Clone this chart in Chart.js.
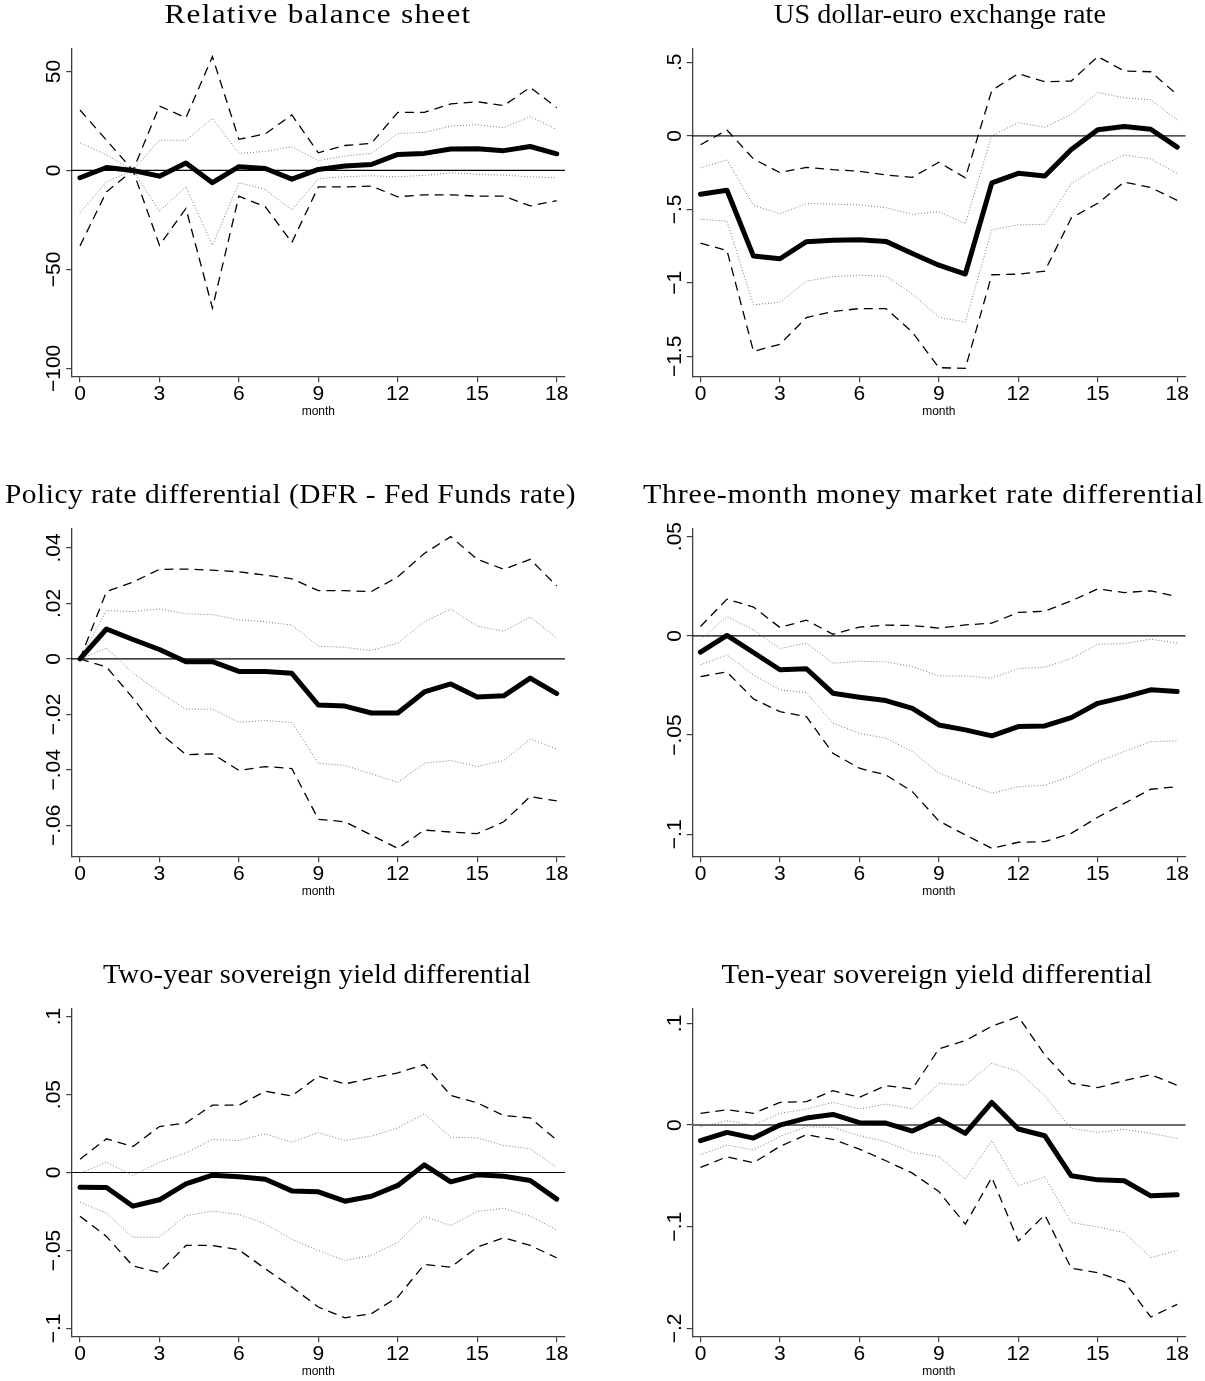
<!DOCTYPE html>
<html>
<head>
<meta charset="utf-8">
<script src="https://cdn.jsdelivr.net/npm/chart.js@4.4.1/dist/chart.umd.min.js"></script>
<style>
  html, body { margin: 0; padding: 0; background: #fff; }
  body { width: 1205px; height: 1381px; position: relative; overflow: hidden; }
  canvas { position: absolute; }
</style>
</head>
<body>
<canvas id="p1"></canvas>
<canvas id="p2"></canvas>
<canvas id="p3"></canvas>
<canvas id="p4"></canvas>
<canvas id="p5"></canvas>
<canvas id="p6"></canvas>
<script>
// Horizon (months after the shock) and x-axis ticks
const months = [0, 1, 2, 3, 4, 5, 6, 7, 8, 9, 10, 11, 12, 13, 14, 15, 16, 17, 18];
const xTicks = [0, 3, 6, 9, 12, 15, 18];
const xTickLabels = ['0', '3', '6', '9', '12', '15', '18'];

// Relative balance sheet: point estimate, 90% band (dashed), 68% band (dotted)
const bsMean = [-3.7, 1.5, 0, -2.9, 3.7, -6.2, 1.9, 1.0, -4.4, 0.5, 2.2, 3.0, 8.1, 8.6, 10.8, 11.0, 10.0, 12.1, 8.4];
const bsHi90 = [30.5, 15.3, 0, 32.5, 26.6, 57.5, 15.7, 18.5, 28.0, 8.9, 12.6, 13.7, 29.3, 29.3, 33.6, 34.7, 32.7, 42.0, 31.7];
const bsLo90 = [-38.1, -10.8, 0, -37.8, -19.2, -69.5, -13.0, -18.4, -36.4, -8.3, -8.3, -7.9, -13.3, -12.3, -12.3, -13.0, -13.0, -17.9, -15.3];
const bsHi68 = [14.0, 7.8, 0, 15.3, 15.2, 26.3, 8.6, 9.6, 12.0, 4.9, 7.3, 8.6, 18.7, 19.2, 22.4, 23.1, 21.6, 27.2, 20.7];
const bsLo68 = [-21.4, -5.7, 0, -20.6, -8.3, -37.8, -6.2, -9.6, -20.0, -4.2, -3.2, -2.7, -3.2, -2.5, -1.2, -1.9, -2.4, -3.2, -3.7];
const bsTicks = [-100, -50, 0, 50];
const bsTickLabels = ['\u2212100', '\u221250', '0', '50'];

// US dollar-euro exchange rate
const fxMean = [-0.398, -0.37, -0.818, -0.836, -0.72, -0.711, -0.707, -0.718, -0.80, -0.88, -0.94, -0.32, -0.255, -0.273, -0.093, 0.041, 0.064, 0.045, -0.077];
const fxHi90 = [-0.061, 0.039, -0.157, -0.25, -0.214, -0.23, -0.241, -0.266, -0.282, -0.18, -0.286, 0.309, 0.423, 0.368, 0.373, 0.539, 0.441, 0.436, 0.28];
const fxLo90 = [-0.73, -0.78, -1.466, -1.418, -1.236, -1.195, -1.175, -1.175, -1.336, -1.577, -1.582, -0.945, -0.941, -0.92, -0.559, -0.459, -0.314, -0.352, -0.439];
const fxHi68 = [-0.218, -0.164, -0.473, -0.53, -0.461, -0.464, -0.47, -0.489, -0.534, -0.516, -0.598, 0.002, 0.089, 0.059, 0.145, 0.295, 0.259, 0.245, 0.109];
const fxLo68 = [-0.568, -0.58, -1.15, -1.132, -0.989, -0.957, -0.948, -0.955, -1.075, -1.234, -1.268, -0.639, -0.605, -0.602, -0.325, -0.214, -0.13, -0.157, -0.257];
const fxTicks = [-1.5, -1, -0.5, 0, 0.5];
const fxTickLabels = ['\u22121.5', '\u22121', '\u2212.5', '0', '.5'];

// Policy rate differential (DFR - Fed Funds rate)
const prMean = [0, 0.0108, 0.007, 0.0034, -0.001, -0.001, -0.0045, -0.0045, -0.0052, -0.0166, -0.017, -0.0195, -0.0195, -0.0119, -0.009, -0.0137, -0.0133, -0.0069, -0.0125];
const prHi90 = [0, 0.0243, 0.0277, 0.0323, 0.0324, 0.032, 0.0314, 0.0302, 0.0289, 0.0246, 0.0246, 0.0243, 0.0296, 0.038, 0.0441, 0.0359, 0.0323, 0.0359, 0.0263];
const prLo90 = [0, -0.0029, -0.0141, -0.0265, -0.0345, -0.0342, -0.0402, -0.0388, -0.0395, -0.0578, -0.0587, -0.0635, -0.0683, -0.0617, -0.0624, -0.063, -0.0587, -0.0496, -0.0512];
const prHi68 = [0, 0.0175, 0.0171, 0.018, 0.0163, 0.016, 0.0141, 0.0134, 0.0122, 0.0046, 0.0042, 0.003, 0.0057, 0.0134, 0.018, 0.0118, 0.01, 0.0151, 0.0076];
const prLo68 = [0, 0.0039, -0.0051, -0.012, -0.0181, -0.0181, -0.0228, -0.0222, -0.0229, -0.0376, -0.0384, -0.0414, -0.0445, -0.0376, -0.0366, -0.0388, -0.0366, -0.0289, -0.0324];
const prTicks = [-0.06, -0.04, -0.02, 0, 0.02, 0.04];
const prTickLabels = ['\u2212.06', '\u2212.04', '\u2212.02', '0', '.02', '.04'];

// Three-month money market rate differential
const mmMean = [-0.0082, 0.0002, -0.0084, -0.0171, -0.0166, -0.0289, -0.0309, -0.0326, -0.0366, -0.0449, -0.0474, -0.0504, -0.0457, -0.0454, -0.0412, -0.034, -0.0309, -0.0272, -0.0281];
const mmHi90 = [0.0047, 0.0185, 0.0145, 0.0042, 0.0079, 0.0008, 0.0044, 0.0054, 0.0052, 0.0039, 0.0055, 0.0064, 0.0118, 0.0124, 0.0176, 0.0237, 0.0218, 0.0227, 0.0197];
const mmLo90 = [-0.0205, -0.0182, -0.0318, -0.0382, -0.0407, -0.0592, -0.0667, -0.0701, -0.0785, -0.0933, -0.1003, -0.1071, -0.104, -0.1037, -0.0995, -0.0914, -0.0844, -0.0773, -0.076];
const mmHi68 = [-0.002, 0.0097, 0.003, -0.0064, -0.0037, -0.0138, -0.0128, -0.0131, -0.0155, -0.0202, -0.0202, -0.0213, -0.0165, -0.0158, -0.0114, -0.0042, -0.0039, -0.0017, -0.0037];
const mmLo68 = [-0.0146, -0.0096, -0.0197, -0.0272, -0.0286, -0.044, -0.0491, -0.0516, -0.0583, -0.0692, -0.0743, -0.0793, -0.076, -0.0753, -0.0706, -0.0634, -0.0583, -0.0533, -0.0529];
const mmTicks = [-0.1, -0.05, 0, 0.05];
const mmTickLabels = ['\u2212.1', '\u2212.05', '0', '.05'];

// Two-year sovereign yield differential
const y2Mean = [-0.0094, -0.0096, -0.0216, -0.0175, -0.0073, -0.0017, -0.0028, -0.0043, -0.0118, -0.0124, -0.0184, -0.0152, -0.0083, 0.0049, -0.006, -0.0015, -0.0024, -0.0051, -0.0171];
const y2Hi90 = [0.0085, 0.0216, 0.0167, 0.0295, 0.0318, 0.0432, 0.0432, 0.0521, 0.0491, 0.0618, 0.0568, 0.0605, 0.0639, 0.0692, 0.0494, 0.0447, 0.0365, 0.035, 0.0209];
const y2Lo90 = [-0.028, -0.041, -0.06, -0.0641, -0.0468, -0.0468, -0.0496, -0.0618, -0.0735, -0.0863, -0.0932, -0.0906, -0.0799, -0.059, -0.0607, -0.0479, -0.0419, -0.0468, -0.0547];
const y2Hi68 = [-0.0004, 0.0066, -0.0019, 0.0066, 0.0126, 0.0212, 0.0205, 0.0248, 0.0194, 0.0256, 0.0205, 0.0233, 0.0286, 0.0376, 0.0226, 0.0222, 0.0173, 0.0152, 0.0034];
const y2Lo68 = [-0.019, -0.0261, -0.0415, -0.0415, -0.0276, -0.0248, -0.0269, -0.0329, -0.0429, -0.05, -0.0564, -0.0532, -0.0447, -0.0282, -0.034, -0.025, -0.0229, -0.028, -0.0368];
const y2Ticks = [-0.1, -0.05, 0, 0.05, 0.1];
const y2TickLabels = ['\u2212.1', '\u2212.05', '0', '.05', '.1'];

// Ten-year sovereign yield differential
const y10Mean = [-0.0154, -0.0072, -0.0128, 0, 0.0069, 0.0105, 0.0023, 0.002, -0.0059, 0.0059, -0.0082, 0.0223, -0.0039, -0.0105, -0.0499, -0.0539, -0.0548, -0.0696, -0.0686];
const y10Hi90 = [0.0115, 0.0151, 0.0115, 0.0223, 0.023, 0.0338, 0.0273, 0.0388, 0.0355, 0.0749, 0.0831, 0.0972, 0.1067, 0.069, 0.0411, 0.0368, 0.0437, 0.0496, 0.0391];
const y10Lo90 = [-0.0417, -0.0312, -0.0371, -0.021, -0.0095, -0.0141, -0.0236, -0.0351, -0.0473, -0.0654, -0.0975, -0.0516, -0.114, -0.0883, -0.1409, -0.1452, -0.154, -0.1888, -0.1764];
const y10Hi68 = [-0.0016, 0.0043, 0, 0.0115, 0.0158, 0.0223, 0.0158, 0.0207, 0.0158, 0.041, 0.0394, 0.0608, 0.0529, 0.0289, -0.0033, -0.0072, -0.0043, -0.0082, -0.0131];
const y10Lo68 = [-0.0292, -0.0197, -0.0246, -0.0112, -0.0016, -0.0023, -0.0105, -0.0164, -0.0269, -0.0309, -0.0532, -0.0154, -0.0598, -0.0509, -0.0959, -0.1002, -0.1057, -0.1304, -0.1232];
const y10Ticks = [-0.2, -0.1, 0, 0.1];
const y10TickLabels = ['\u2212.2', '\u2212.1', '0', '.1'];

// ---- page layout (px) ----
const CANVAS_X = [0, 605], CANVAS_W = [605, 600];
const CANVAS_Y = [0, 480, 960], CANVAS_H = [480, 480, 421];
const PLOT_L = [71.7, 692.2], PLOT_R = [565, 1185.5];
const PLOT_T = [48.3, 528.3, 1008.3], PLOT_B = [376.7, 856.7, 1336.7];
const EDGE = 8.3;          // gap between outermost data/tick and the frame
const Y_BOX = 60, X_BOX = 40;

const AXIS_COLOR = '#404040';
const TICK_FONT = '21px "Liberation Sans", Arial, sans-serif';
const TITLE_FONT = '28px "Liberation Serif", "Times New Roman", serif';

const panels = [
  { id: 'p1', col: 0, row: 0, title: 'Relative balance sheet', titleX: 318, titleW: 307,
    mean: bsMean, hi90: bsHi90, lo90: bsLo90, hi68: bsHi68, lo68: bsLo68,
    ticks: bsTicks, tickLabels: bsTickLabels, zeroColor: '#000', zeroWidth: 1.2 },
  { id: 'p2', col: 1, row: 0, title: 'US dollar-euro exchange rate', titleX: 940, titleW: 332,
    mean: fxMean, hi90: fxHi90, lo90: fxLo90, hi68: fxHi68, lo68: fxLo68,
    ticks: fxTicks, tickLabels: fxTickLabels, zeroColor: '#1a1a1a', zeroWidth: 1.2 },
  { id: 'p3', col: 0, row: 1, title: 'Policy rate differential (DFR - Fed Funds rate)', titleX: 290.5, titleW: 571,
    mean: prMean, hi90: prHi90, lo90: prLo90, hi68: prHi68, lo68: prLo68,
    ticks: prTicks, tickLabels: prTickLabels, zeroColor: '#000', zeroWidth: 1.2 },
  { id: 'p4', col: 1, row: 1, title: 'Three-month money market rate differential', titleX: 923.5, titleW: 561,
    mean: mmMean, hi90: mmHi90, lo90: mmLo90, hi68: mmHi68, lo68: mmLo68,
    ticks: mmTicks, tickLabels: mmTickLabels, zeroColor: '#000', zeroWidth: 1.2 },
  { id: 'p5', col: 0, row: 2, title: 'Two-year sovereign yield differential', titleX: 317, titleW: 428,
    mean: y2Mean, hi90: y2Hi90, lo90: y2Lo90, hi68: y2Hi68, lo68: y2Lo68,
    ticks: y2Ticks, tickLabels: y2TickLabels, zeroColor: '#000', zeroWidth: 1.2 },
  { id: 'p6', col: 1, row: 2, title: 'Ten-year sovereign yield differential', titleX: 937, titleW: 431,
    mean: y10Mean, hi90: y10Hi90, lo90: y10Lo90, hi68: y10Hi68, lo68: y10Lo68,
    ticks: y10Ticks, tickLabels: y10TickLabels, zeroColor: '#6a6a6a', zeroWidth: 2 }
];

function toPoints(values) {
  return months.map((m, i) => ({ x: m, y: values[i] }));
}

function makeDecor(p) {
  return {
    id: 'panelDecor',
    beforeDatasetsDraw(chart) {
      const { ctx, chartArea: a, scales } = chart;
      const py = scales.y.getPixelForValue(0);
      ctx.save();
      ctx.strokeStyle = p.zeroColor;
      ctx.lineWidth = p.zeroWidth;
      ctx.beginPath();
      ctx.moveTo(a.left, py);
      ctx.lineTo(a.right, py);
      ctx.stroke();
      ctx.restore();
    },
    afterDraw(chart) {
      const { ctx, chartArea: a, scales } = chart;
      ctx.save();
      ctx.fillStyle = '#000';
      // y tick labels, reading upwards
      ctx.font = TICK_FONT;
      ctx.textAlign = 'center';
      ctx.textBaseline = 'alphabetic';
      p.ticks.forEach((v, i) => {
        const py = scales.y.getPixelForValue(v);
        ctx.save();
        ctx.translate(a.left - 11.7, py);
        ctx.rotate(-Math.PI / 2);
        ctx.fillText(p.tickLabels[i], 0, 0);
        ctx.restore();
      });
      // x tick labels
      xTicks.forEach((v, i) => {
        ctx.fillText(xTickLabels[i], scales.x.getPixelForValue(v), a.bottom + 23.3);
      });
      // x axis title
      ctx.font = '12px "Liberation Sans", Arial, sans-serif';
      ctx.fillText('month', (a.left + a.right) / 2, a.bottom + 38.5);
      // panel title: widen the serif face partly by tracking, partly by stretching
      ctx.font = TITLE_FONT;
      ctx.textAlign = 'left';
      const w0 = ctx.measureText(p.title).width;
      if ('letterSpacing' in ctx) {
        ctx.letterSpacing = (0.45 * (p.titleW - w0) / p.title.length).toFixed(2) + 'px';
      }
      const w1 = ctx.measureText(p.title).width;
      const sx = p.titleW / w1;
      const cx = p.titleX - CANVAS_X[p.col];
      ctx.translate(cx - p.titleW / 2, a.top - 25);
      ctx.scale(sx, 1);
      ctx.fillText(p.title, 0, 0);
      ctx.restore();
    }
  };
}

panels.forEach(p => {
  const cx = CANVAS_X[p.col], cy = CANVAS_Y[p.row];
  const cw = CANVAS_W[p.col], ch = CANVAS_H[p.row];
  const L = PLOT_L[p.col] - cx, R = PLOT_R[p.col] - cx;
  const T = PLOT_T[p.row] - cy, B = PLOT_B[p.row] - cy;

  const canvas = document.getElementById(p.id);
  canvas.width = cw; canvas.height = ch;
  canvas.style.left = cx + 'px'; canvas.style.top = cy + 'px';
  canvas.style.width = cw + 'px'; canvas.style.height = ch + 'px';

  // value ranges: data and ticks, widened by a fixed pixel margin
  const all = [].concat(p.mean, p.hi90, p.lo90, p.hi68, p.lo68, p.ticks);
  const lo = Math.min(...all), hi = Math.max(...all);
  const yPad = (hi - lo) * EDGE / (B - T - 2 * EDGE);
  const xLo = months[0], xHi = months[months.length - 1];
  const xPad = (xHi - xLo) * EDGE / (R - L - 2 * EDGE);

  const band90 = { borderColor: '#000', borderWidth: 1.3, borderDash: [9, 6] };
  const band68 = { borderColor: '#7a7a7a', borderWidth: 1, borderDash: [1, 2] };

  new Chart(canvas, {
    type: 'line',
    data: {
      datasets: [
        { data: toPoints(p.mean), borderColor: '#000', borderWidth: 5, borderCapStyle: 'round', borderJoinStyle: 'round' },
        Object.assign({ data: toPoints(p.hi90) }, band90),
        Object.assign({ data: toPoints(p.lo90) }, band90),
        Object.assign({ data: toPoints(p.hi68) }, band68),
        Object.assign({ data: toPoints(p.lo68) }, band68)
      ]
    },
    options: {
      responsive: false,
      animation: false,
      events: [],
      layout: {
        autoPadding: false,
        padding: { left: L - Y_BOX, top: T, right: cw - R, bottom: ch - B - X_BOX }
      },
      elements: { point: { radius: 0 }, line: { tension: 0, fill: false } },
      plugins: { legend: { display: false }, tooltip: { enabled: false }, title: { display: false } },
      scales: {
        x: {
          type: 'linear', bounds: 'data', min: xLo - xPad, max: xHi + xPad,
          afterBuildTicks: s => { s.ticks = xTicks.map(v => ({ value: v })); },
          afterFit: s => { s.height = X_BOX; },
          ticks: { display: false },
          grid: { drawOnChartArea: false, drawTicks: true, tickLength: 5.5, color: AXIS_COLOR, lineWidth: 1.2 },
          border: { display: true, color: AXIS_COLOR, width: 1.3 }
        },
        y: {
          type: 'linear', bounds: 'data', min: lo - yPad, max: hi + yPad,
          afterBuildTicks: s => { s.ticks = p.ticks.map(v => ({ value: v })); },
          afterFit: s => { s.width = Y_BOX; },
          ticks: { display: false },
          grid: { drawOnChartArea: false, drawTicks: true, tickLength: 5.5, color: AXIS_COLOR, lineWidth: 1.2 },
          border: { display: true, color: AXIS_COLOR, width: 1.3 }
        }
      }
    },
    plugins: [makeDecor(p)]
  });
});
</script>
</body>
</html>
